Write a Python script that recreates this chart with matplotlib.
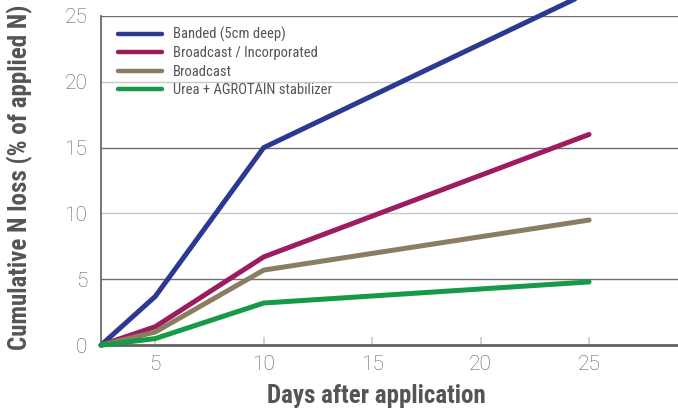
import matplotlib.pyplot as plt

# data
days = [2.5, 5, 10, 25]
banded = [0, 3.7, 15.0, 26.8]
broadcast_inc = [0, 1.4, 6.7, 16.0]
broadcast = [0, 1.0, 5.7, 9.5]
urea_agrotain = [0, 0.5, 3.2, 4.8]

series = [
    ("Banded (5cm deep)", banded, "#2b3990"),
    ("Broadcast / Incorporated", broadcast_inc, "#9c1c5f"),
    ("Broadcast", broadcast, "#8b7d62"),
    ("Urea + AGROTAIN stabilizer", urea_agrotain, "#149a48"),
]

x_ticks = [5, 10, 15, 20, 25]
y_ticks = [0, 5, 10, 15, 20, 25]

cond = ["Roboto Condensed", "Barlow Condensed", "DejaVu Sans"]
light = ["Roboto", "DejaVu Sans"]

fig = plt.figure(figsize=(6.78, 4.08), dpi=100)
ax = fig.add_axes([0.149, 0.154, 0.851, 0.807])

for label, vals, col in series:
    ax.plot(days, vals, color=col, lw=3.6, label=label, clip_on=False,
            solid_capstyle="round", zorder=3)

ax.set_xlim(2.5, 29.1)
ax.set_ylim(0, 25)

# gridlines alternate dark / light
for y in y_ticks[1:]:
    c = "#707070" if y % 10 == 5 else "#c8c8c8"
    ax.axhline(y, color=c, lw=1.0, zorder=1)

ax.set_xticks(x_ticks)
ax.set_yticks(y_ticks)
ax.tick_params(axis="x", direction="in", length=6, width=1.2, color="#cccccc",
               labelsize=15, labelcolor="#5e5e5e", pad=7)
ax.tick_params(axis="y", length=0, labelsize=15, labelcolor="#5e5e5e", pad=10)
for t in ax.get_xticklabels() + ax.get_yticklabels():
    t.set_family(light)
    t.set_fontweight("light")

for s in ["top", "right"]:
    ax.spines[s].set_visible(False)
ax.spines["left"].set_color("#6a6a6a")
ax.spines["left"].set_linewidth(1.3)
ax.spines["bottom"].set_color("#606060")
ax.spines["bottom"].set_linewidth(2)

ax.set_xlabel("Days after application", family=cond, fontweight="bold",
              fontsize=18, color="#555555")
ax.xaxis.set_label_coords(0.477, -0.118)
ax.set_ylabel("Cumulative N loss (% of applied N)", family=cond,
              fontweight="bold", fontsize=18, color="#555555")
ax.yaxis.set_label_coords(-0.118, 0.51)

leg = ax.legend(loc="upper left", frameon=False, handlelength=3.0,
                handletextpad=0.75, labelspacing=0.3, borderaxespad=0,
                bbox_to_anchor=(0.02, 0.985),
                prop={"family": cond, "size": 10.5})
for t in leg.get_texts():
    t.set_color("#555555")
for h in leg.get_lines():
    h.set_linewidth(3.2)

fig.savefig("out.png", dpi=100)
